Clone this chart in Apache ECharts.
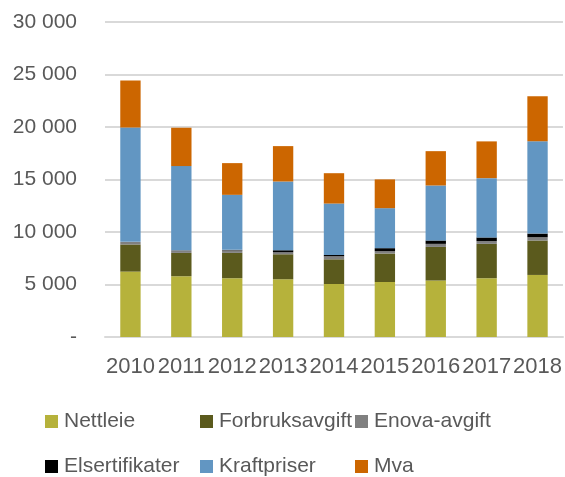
<!DOCTYPE html>
<html>
<head>
<meta charset="utf-8">
<script src="https://cdn.jsdelivr.net/npm/echarts@6/dist/echarts.min.js"></script>
<style>
  html, body { margin: 0; padding: 0; background: #fff; }
  #chart { width: 565px; height: 477px; }
</style>
</head>
<body>
<div id="chart"></div>
<script>
const years = ["2010", "2011", "2012", "2013", "2014", "2015", "2016", "2017", "2018"];
const nettleie = [6230, 5790, 5600, 5500, 5050, 5240, 5380, 5600, 5910];
const forbruksavgift = [2580, 2220, 2410, 2380, 2350, 2710, 3200, 3270, 3280];
const enova = [250, 260, 240, 190, 290, 220, 290, 260, 310];
const elsertifikater = [0, 0, 50, 190, 120, 290, 320, 350, 350];
const kraftpriser = [10900, 8010, 5240, 6550, 4900, 3810, 5240, 5650, 8800];
const mva = [4480, 3650, 3020, 3370, 2890, 2740, 3270, 3500, 4290];

const textColor = "#595959";
const font = "Liberation Sans";

function fmt(v) {
  if (v === 0) return "-";
  return String(v).replace(/\B(?=(\d{3})+(?!\d))/g, " ");
}

function bar(name, data, color) {
  return {
    name: name,
    type: "bar",
    stack: "total",
    barWidth: "40%",
    data: data,
    itemStyle: { color: color },
    emphasis: { disabled: true }
  };
}

// one legend per item so the columns line up like the original
function legend(left, top, name) {
  return {
    left: left,
    top: top,
    icon: "rect",
    itemWidth: 13,
    itemHeight: 13,
    itemGap: 6,
    padding: 0,
    textStyle: { fontFamily: font, fontSize: 21, color: textColor, padding: [0, 0, 0, 1] },
    data: [name]
  };
}

const chart = echarts.init(document.getElementById("chart"));
chart.setOption({
  animation: false,
  grid: { left: 105, right: 2, top: 22, bottom: 140 },
  legend: [
    legend(45, 411, "Nettleie"),
    legend(200, 411, "Forbruksavgift"),
    legend(355, 411, "Enova-avgift"),
    legend(45, 456, "Elsertifikater"),
    legend(200, 456, "Kraftpriser"),
    legend(355, 456, "Mva")
  ],
  xAxis: {
    type: "category",
    data: years,
    axisLine: { lineStyle: { color: "#d9d9d9", width: 2 } },
    axisTick: { show: false },
    axisLabel: { fontFamily: font, fontSize: 22, color: textColor, margin: 19, interval: 0 }
  },
  yAxis: {
    type: "value",
    min: 0,
    max: 30000,
    interval: 5000,
    axisLine: { show: false },
    axisTick: { show: false },
    splitLine: { lineStyle: { color: "#d9d9d9", width: 2 } },
    axisLabel: { fontFamily: font, fontSize: 21, color: textColor, margin: 28, formatter: fmt }
  },
  series: [
    bar("Nettleie", nettleie, "#b6b23b"),
    bar("Forbruksavgift", forbruksavgift, "#5b5a1d"),
    bar("Enova-avgift", enova, "#808080"),
    bar("Elsertifikater", elsertifikater, "#000000"),
    bar("Kraftpriser", kraftpriser, "#6296c2"),
    bar("Mva", mva, "#cc6600")
  ]
});
</script>
</body>
</html>
